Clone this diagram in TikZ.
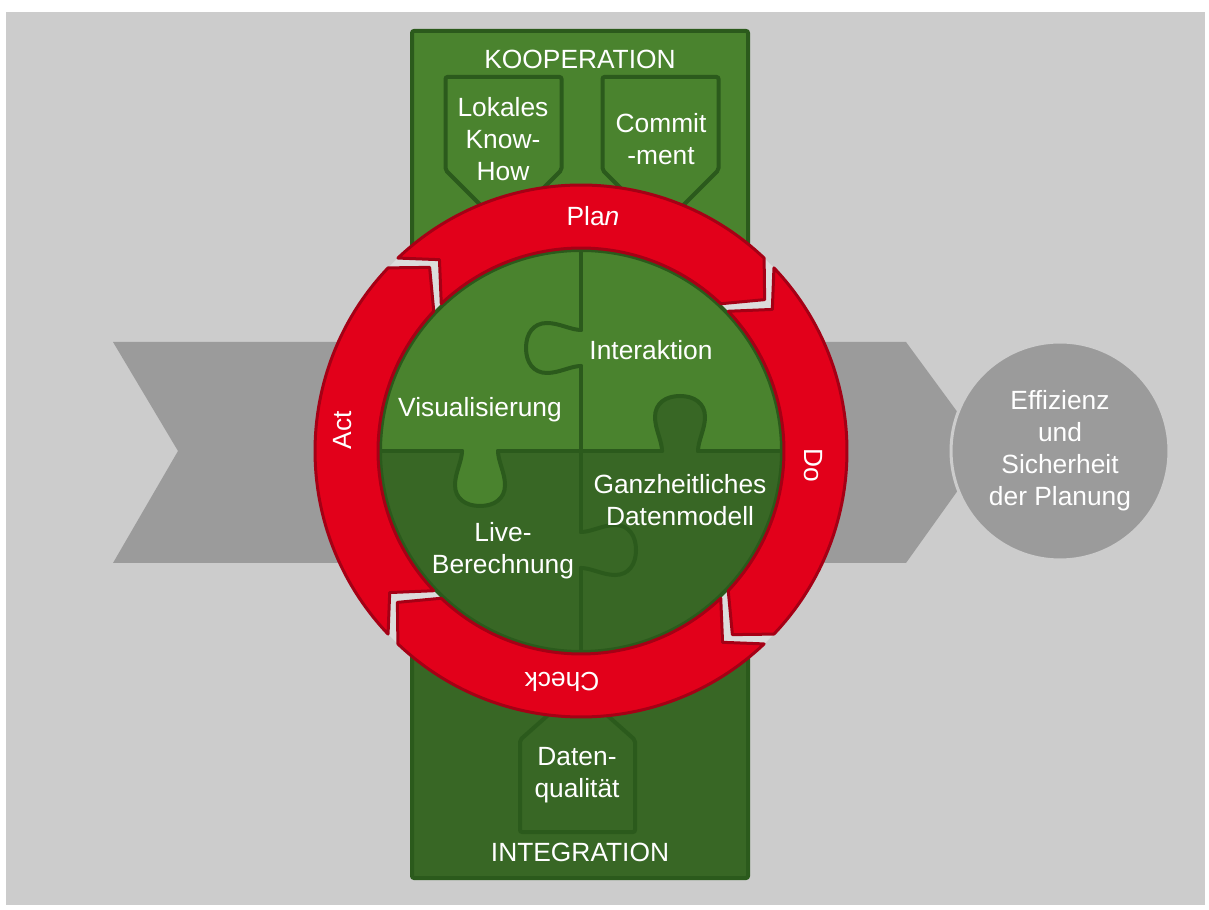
\documentclass[tikz,border=0pt]{standalone}
\usepackage{fontspec}
\setmainfont{Liberation Sans}
\definecolor{bggray}{HTML}{CCCCCC}
\definecolor{midgray}{HTML}{9B9B9B}
\definecolor{gapgray}{HTML}{DCDCDC}
\definecolor{ltgreen}{HTML}{4A832E}
\definecolor{dkgreen}{HTML}{386725}
\definecolor{lineg}{HTML}{2B5A1C}
\definecolor{pdcared}{HTML}{E2001A}
\definecolor{pdcadark}{HTML}{A50015}

\begin{document}
\begin{tikzpicture}[x=0.02cm, y=0.02cm,
    lbl/.style={text=white, font=\fontsize{15}{18.2}\selectfont, align=center, inner sep=0pt},
    greenbox/.style={draw=lineg, line width=0.08cm, rounded corners=0.04cm},
    seg/.style={fill=pdcared, draw=pdcadark, line width=0.06cm, line join=round},
    knob/.pic={\path[pic actions] (-18,0) .. controls (-18,10) and (-25,22) .. (-25,34)
        .. controls (-25,48) and (-14,55) .. (0,55) .. controls (14,55) and (25,48) .. (25,34)
        .. controls (25,22) and (18,10) .. (18,0);}]

    \useasboundingbox (0,0) rectangle (1209,909);
    \fill[bggray] (6,4) rectangle (1205,897);

    % Big gray chevron
    \fill[midgray] (113,567) -- (906,567) -- (986,458) -- (906,346) -- (113,346) -- (178,458) -- cycle;

    % Kooperation / Integration columns
    \filldraw[greenbox, fill=ltgreen] (412,458) rectangle (748,878);
    \filldraw[greenbox, fill=dkgreen] (412,31) rectangle (748,458);
    \foreach \cx in {503.5,660.5} {
        \filldraw[greenbox, fill=ltgreen] (\cx-58,832) -- (\cx+58,832) -- (\cx+58,739) -- (\cx,681) -- (\cx-58,739) -- cycle;
    }
    \filldraw[greenbox, fill=dkgreen] (520,77) -- (635,77) -- (635,169) -- (577.5,220) -- (520,169) -- cycle;

    \node[lbl] (koop) at (580,850) {KOOPERATION};
    \node[lbl] (integ) at (580,57) {INTEGRATION};
    \node[lbl] (knowhow) at (503,770) {Lokales\\Know-\\How};
    \node[lbl] (commit) at (661,770) {Commit\\-ment};
    \node[lbl] (datenq) at (577,134) {Daten-\\qualit\"at};

    % Puzzle circle
    \begin{scope}
        \clip (581,458) circle (201);
        \fill[ltgreen] (370,458) rectangle (792,670);
        \fill[dkgreen] (370,458) rectangle (792,246);
        \pic[fill=dkgreen] at (680,458) {knob};
        \pic[fill=ltgreen, rotate=180] at (480,458) {knob};
        % seams
        \draw[lineg, line width=0.08cm, line cap=round]
            (370,458) -- (462,458) (498,458) -- (662,458) (698,458) -- (792,458)
            (581,250) -- (581,341) (581,377) -- (581,543) (581,579) -- (581,670);
        \pic[draw=lineg, line width=0.08cm, line cap=round] at (680,458) {knob};
        \pic[draw=lineg, line width=0.08cm, line cap=round, rotate=180] at (480,458) {knob};
        \pic[draw=lineg, line width=0.08cm, line cap=round, rotate=90] at (581,561) {knob};
        \pic[draw=lineg, line width=0.08cm, line cap=round, rotate=-90] at (581,359) {knob};
    \end{scope}
    \draw[lineg, line width=0.08cm] (581,458) circle (201);

    \node[lbl] (interakt) at (651,559) {Interaktion};
    \node[lbl] (visual) at (480,499) {Visualisierung};
    \node[lbl] (liveber) at (503,358) {Live-\\Berechnung};
    \node[lbl] (datenmod) at (680,409) {Ganzheitliches\\Datenmodell};

    % PDCA ring
    \begin{scope}[shift={(581,458)}]
        \fill[gapgray, even odd rule] (0,0) circle (266) (0,0) circle (203);
        \foreach \sa/\ea in {133.5/46.5, 43.5/-43.5, -46.5/-133.5, 223.5/136.5} {
            \filldraw[seg] (\sa:266) arc[start angle=\sa, end angle=\ea, radius=266]
                -- ({\ea-7}:238) -- (\ea:203) arc[start angle=\ea, end angle=\sa, radius=203]
                -- ({\sa-7}:238) -- cycle;
        }
    \end{scope}
    \node[lbl] (plan) at (593,693) {Pla\textit{n}};
    \node[lbl, rotate=-90] (do) at (813,444) {Do};
    \node[lbl, rotate=180] (check) at (562,227) {Check};
    \node[lbl, rotate=90] (act) at (343,479) {Act};

    % Goal
    \node[lbl, circle, fill=midgray, draw=bggray, line width=0.06cm, minimum size=4.36cm]
        (effizienz) at (1060,458) {Effizienz\\und\\Sicherheit\\der Planung};
\end{tikzpicture}
\end{document}
